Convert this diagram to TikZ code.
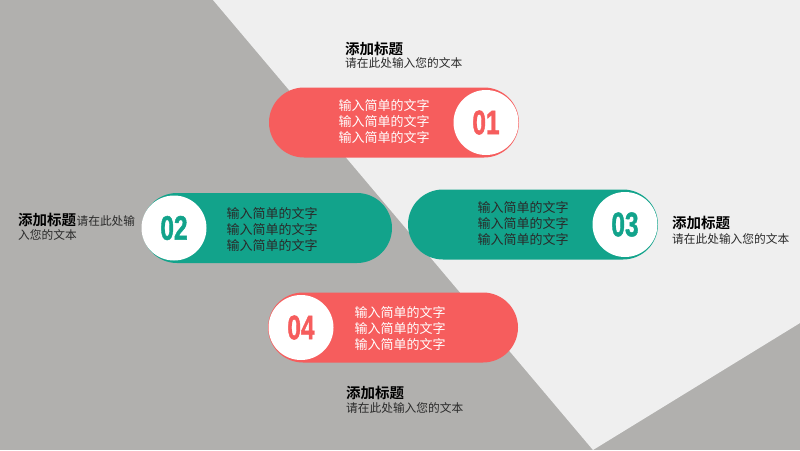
\documentclass[tikz,border=0pt]{standalone}
\usepackage{fontspec}
\setmainfont{Liberation Sans}
\newfontfamily\cjk{Noto Sans CJK SC}
\newfontfamily\cjkb{Noto Sans CJK SC Bold}
\newfontfamily\numfont[FakeBold=1.5]{Liberation Sans Bold}
\usetikzlibrary{shapes.misc}
\definecolor{bgdark}{HTML}{B1B0AE}
\definecolor{bglight}{HTML}{EFEFEF}
\definecolor{pred}{HTML}{F65D5D}
\definecolor{pteal}{HTML}{12A38B}
\definecolor{dtext}{HTML}{2A2A2A}
\tikzset{
  pill/.style={rounded rectangle, minimum width=250pt, minimum height=70pt, inner sep=0pt, draw=none},
  disc/.style={circle, fill=white, minimum size=65pt, inner sep=0pt},
  numtxt/.style={font=\numfont\fontsize{34}{34}\selectfont, xscale=0.72, inner sep=0pt},
  pilltxt/.style={font=\cjk\fontsize{13}{16}\selectfont, align=center, inner sep=0pt},
  ttl/.style={font=\cjkb\fontsize{14.5}{16}\selectfont, anchor=base west, inner sep=0pt, text=black},
  bdy/.style={font=\cjk\fontsize{11.7}{14}\selectfont, anchor=base west, inner sep=0pt, text=dtext}
}
\begin{document}
\begin{tikzpicture}[x=1pt,y=-1pt]
\useasboundingbox (0,0) rectangle (800,450);
\fill[bgdark] (0,0) rectangle (800,450);
\fill[bglight] (213,0) -- (800,0) -- (800,323) -- (593,450) -- cycle;

% pill 1
\node[pill, fill=pred] (p1) at (394,122.5) {};
\node[disc] (c1) at (486,122.5) {};
\node[numtxt, text=pred] (n1) at (c1) {01};
\node[pilltxt, text=white] (t1) at (384,122) {输入简单的文字\\输入简单的文字\\输入简单的文字};

% pill 2
\node[pill, fill=pteal] (p2) at (267,228) {};
\node[disc] (c2) at (174,228) {};
\node[numtxt, text=pteal] (n2) at (c2) {02};
\node[pilltxt, text=dtext] (t2) at (272,230) {输入简单的文字\\输入简单的文字\\输入简单的文字};

% pill 3
\node[pill, fill=pteal] (p3) at (533,224.5) {};
\node[disc] (c3) at (625,224.5) {};
\node[numtxt, text=pteal] (n3) at (c3) {03};
\node[pilltxt, text=dtext] (t3) at (523,223.5) {输入简单的文字\\输入简单的文字\\输入简单的文字};

% pill 4
\node[pill, fill=pred] (p4) at (393,327.5) {};
\node[disc] (c4) at (301,327.5) {};
\node[numtxt, text=pred] (n4) at (c4) {04};
\node[pilltxt, text=white] (t4) at (400,328.5) {输入简单的文字\\输入简单的文字\\输入简单的文字};

% labels
\node[ttl] (l1t) at (345,54) {添加标题};
\node[bdy] (l1b) at (345,67) {请在此处输入您的文本};

\node[ttl] (l2t) at (18,225) {添加标题};
\node[bdy] (l2a) at (l2t.base east) {请在此处输};
\node[bdy] (l2b) at (18,239) {入您的文本};

\node[ttl] (l3t) at (672,228) {添加标题};
\node[bdy] (l3b) at (672,243) {请在此处输入您的文本};

\node[ttl] (l4t) at (346,398) {添加标题};
\node[bdy] (l4b) at (346,412) {请在此处输入您的文本};
\end{tikzpicture}
\end{document}
